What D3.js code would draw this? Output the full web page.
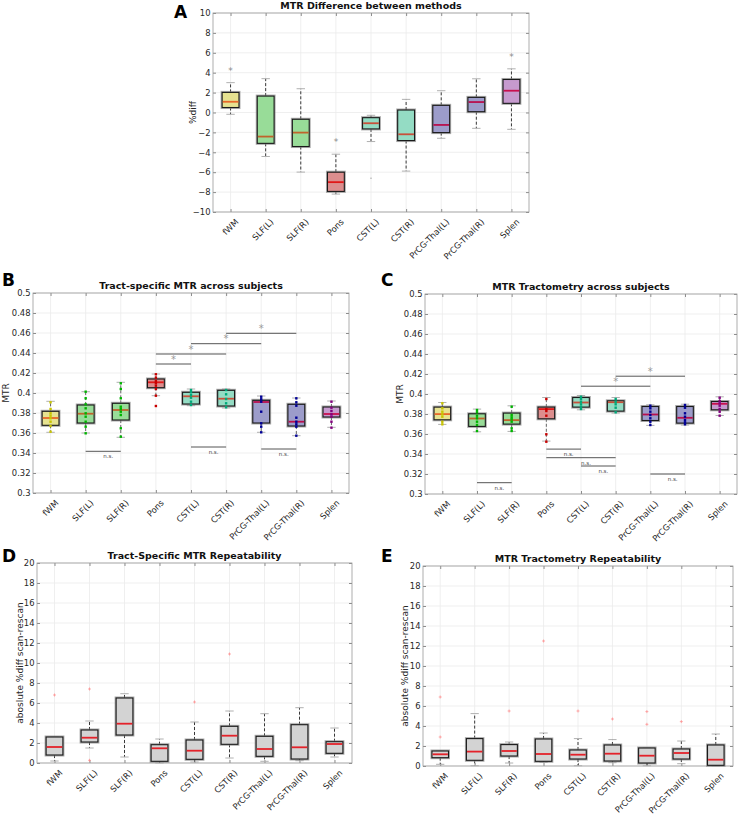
<!DOCTYPE html>
<html><head><meta charset="utf-8">
<script src="https://cdn.jsdelivr.net/npm/d3@7"></script>
<style>body{margin:0;background:#fff} svg{display:block} text{font-family:"DejaVu Sans",sans-serif}</style>
</head><body><svg id="c" width="740" height="815"></svg>
<script>
const categories = ["fWM","SLF(L)","SLF(R)","Pons","CST(L)","CST(R)","PrCG-Thal(L)","PrCG-Thal(R)","Splen"];
const fillColors = ["#e6e290","#98dc98","#98dc98","#dc8e8e","#94dcc4","#94dcc4","#9c9cca","#9c9cca","#c69ace"];
const medianColors = ["#e8682a","#c0642c","#c0642c","#e01818","#c8503a","#c8503a","#b8104e","#b8104e","#c8104e"];
const dotColors = ["#c8c400","#00b400","#00b400","#c80000","#00aa7a","#00aa7a","#000096","#000096","#82007e"];
const grayFill = "#d3d3d3";

// Panel A: MTR difference between methods (%diff)
const aQ1  = [0.5,-3.1,-3.42,-7.93,-1.65,-2.82,-2.02,0.08,0.92];
const aMed = [1.08,-2.42,-2.02,-7.0,-1.08,-2.19,-1.25,1.05,2.19];
const aQ3  = [2.02,1.65,-0.68,-6.0,-0.52,0.25,0.72,1.52,3.32];
const aLo  = [-0.18,-4.42,-5.99,-8.2,-2.92,-5.89,-2.59,-1.59,-1.69];
const aHi  = [3.0,3.4,2.39,-4.19,-0.28,1.32,2.19,3.39,4.39];
const aOutStar = [[4.3],[],[],[-2.89],[],[],[],[],[5.69]];
const aOutDot  = [[],[],[],[],[-6.6],[],[],[],[]];
const aTicks = [-10,-8,-6,-4,-2,0,2,4,6,8,10];

// Panel B: tract-specific MTR across subjects
const bQ1  = [0.3677,0.370,0.373,0.4053,0.389,0.387,0.370,0.367,0.376];
const bMed = [0.375,0.3793,0.383,0.4107,0.3967,0.3943,0.391,0.3713,0.379];
const bQ3  = [0.3817,0.388,0.3897,0.414,0.4007,0.4027,0.3927,0.3887,0.386];
const bLo  = [0.3607,0.360,0.3557,0.3973,0.3873,0.385,0.3607,0.3573,0.3657];
const bHi  = [0.3917,0.4013,0.4107,0.419,0.404,0.404,0.397,0.395,0.392];
const bPoints = [
  [0.3907,0.384,0.3797,0.3773,0.3747,0.3713,0.367,0.3613],
  [0.4013,0.3947,0.3887,0.3847,0.3797,0.3763,0.3713,0.3663,0.3597],
  [0.4097,0.404,0.3947,0.3863,0.384,0.3813,0.378,0.3647,0.3563],
  [0.4187,0.4153,0.412,0.4097,0.4073,0.404,0.3973,0.387],
  [0.403,0.4007,0.398,0.3953,0.3913,0.388],
  [0.403,0.3987,0.394,0.3897,0.3857],
  [0.3963,0.3937,0.3913,0.3813,0.3697,0.3663,0.3607],
  [0.3947,0.3907,0.3873,0.3753,0.3713,0.3687,0.3663,0.3573],
  [0.3913,0.3853,0.382,0.3787,0.3763,0.3713,0.3653]
];
const bSig = [[4,5,0.429,"*"],[4,6,0.439,"*"],[5,7,0.4493,"*"],[6,8,0.4597,"*"],
              [2,3,0.3417,"n.s."],[5,6,0.346,"n.s."],[7,8,0.344,"n.s."]];
const mtrTicks = [0.3,0.32,0.34,0.36,0.38,0.4,0.42,0.44,0.46,0.48,0.5];

// Panel C: MTR tractometry across subjects
const cQ1  = [0.3742,0.3676,0.3699,0.3752,0.3869,0.3829,0.3735,0.3709,0.3842];
const cMed = [0.3799,0.3755,0.3739,0.3849,0.3915,0.3918,0.3795,0.3762,0.3902];
const cQ3  = [0.3869,0.3802,0.3809,0.3869,0.3965,0.3932,0.3875,0.3875,0.3925];
const cLo  = [0.3696,0.3622,0.3626,0.3529,0.3842,0.3809,0.3686,0.3689,0.3785];
const cHi  = [0.3915,0.3849,0.3882,0.3965,0.3985,0.3965,0.3892,0.3898,0.3972];
const cPoints = [
  [0.3907,0.3857,0.3823,0.3797,0.3773,0.3723,0.3697],
  [0.384,0.3817,0.3783,0.3757,0.3723,0.369,0.363],
  [0.3873,0.379,0.3767,0.3747,0.3723,0.3657,0.363],
  [0.395,0.385,0.383,0.3783,0.3597,0.3523],
  [0.3973,0.395,0.3923,0.3897,0.3873,0.385],
  [0.395,0.3923,0.3897,0.3863,0.3817],
  [0.3883,0.3857,0.3823,0.379,0.3757,0.3723,0.369],
  [0.389,0.3863,0.3807,0.3773,0.374,0.3717,0.3697],
  [0.3963,0.393,0.3907,0.3883,0.385,0.3823,0.3783]
];
const cSig = [[5,7,0.4078,"*"],[6,8,0.4178,"*"],
              [2,3,0.3113,"n.s."],[4,5,0.3449,"n.s."],[4,6,0.3363,"n.s."],[5,6,0.328,"n.s."],[7,8,0.32,"n.s."]];

// Panel D: tract-specific repeatability
const dQ1  = [0.8,2.1,2.8,0.17,0.37,1.87,0.67,0.4,0.97];
const dMed = [1.6,2.53,3.93,1.47,1.23,2.73,1.4,1.57,1.9];
const dQ3  = [2.6,3.3,6.5,1.83,2.3,3.67,2.67,3.83,2.13];
const dLo  = [0.2,1.5,0.6,0.0,0.1,0.5,0.17,0.23,0.6];
const dHi  = [2.6,4.2,6.93,2.4,4.1,5.2,4.93,5.53,3.5];
const dOut = [[6.8],[7.4,0.27],[],[],[6.1],[10.9],[],[],[]];

// Panel E: tractometry repeatability
const eQ1  = [0.83,0.57,1.0,0.47,0.7,0.5,0.3,0.7,0.07];
const eMed = [1.17,1.44,1.5,1.2,1.13,1.23,1.03,1.3,0.63];
const eQ3  = [1.5,2.74,2.14,2.7,1.6,2.1,1.8,1.7,2.1];
const eLo  = [0.17,0.03,0.3,0.37,0.03,0.33,0.03,0.23,0.0];
const eHi  = [1.5,5.24,2.4,3.3,2.74,2.64,1.8,2.5,3.2];
const eOut = [[6.9,2.9],[],[5.5],[12.5],[5.5],[4.7],[5.44,4.17],[4.44],[]];
const repTicks = [0,2,4,6,8,10,12,14,16,18,20];

const svg = d3.select("#c");

function panel(cfg){
  const g = svg.append("g");
  const x = d3.scaleLinear().domain([0.5, 9.5]).range([cfg.left, cfg.right]);
  const y = d3.scaleLinear().domain([cfg.ticks[0], cfg.ticks[cfg.ticks.length-1]]).range([cfg.bottom, cfg.top]);
  const step = x(2) - x(1);
  const hw = step * 0.24, cw = step * 0.12;
  const idx = d3.range(1, 10);

  // grid
  g.append("g").selectAll("line").data(cfg.ticks).join("line")
    .attr("x1", cfg.left).attr("x2", cfg.right).attr("y1", d => y(d)).attr("y2", d => y(d))
    .attr("stroke", "#ebebeb").attr("stroke-width", 0.8);
  g.append("g").selectAll("line").data(idx).join("line")
    .attr("y1", cfg.top).attr("y2", cfg.bottom).attr("x1", d => x(d)).attr("x2", d => x(d))
    .attr("stroke", "#ebebeb").attr("stroke-width", 0.8);

  // axes
  const fmt = cfg.fmt || (d => String(d).replace("-", "\u2212"));
  const ya = g.append("g").attr("transform", `translate(${cfg.left},0)`)
    .call(d3.axisLeft(y).tickValues(cfg.ticks).tickFormat(fmt).tickSizeInner(-3).tickSizeOuter(0).tickPadding(2.5));
  ya.select(".domain").remove();
  ya.selectAll("line").attr("stroke", "#444").attr("stroke-width", 0.6);
  ya.selectAll("text").attr("font-size", 8.4).attr("fill", "#262626").attr("font-family", "DejaVu Sans");
  const yr = g.append("g").attr("transform", `translate(${cfg.right},0)`)
    .call(d3.axisRight(y).tickValues(cfg.ticks).tickFormat("").tickSizeInner(-3).tickSizeOuter(0));
  yr.select(".domain").remove();
  yr.selectAll("line").attr("stroke", "#444").attr("stroke-width", 0.6);

  const xa = g.append("g").attr("transform", `translate(0,${cfg.bottom})`)
    .call(d3.axisBottom(x).tickValues(idx).tickFormat(d => categories[d-1]).tickSizeInner(-3).tickSizeOuter(0));
  xa.select(".domain").remove();
  xa.selectAll("line").attr("stroke", "#444").attr("stroke-width", 0.6);
  xa.selectAll("text").attr("font-size", 8.4).attr("fill", "#262626").attr("font-family", "DejaVu Sans")
    .attr("text-anchor", "end").attr("dy", null).attr("y", 0)
    .attr("transform", d => `translate(8,10.5) rotate(-45)`);
  const xt = g.append("g").attr("transform", `translate(0,${cfg.top})`)
    .call(d3.axisTop(x).tickValues(idx).tickFormat("").tickSizeInner(-3).tickSizeOuter(0));
  xt.select(".domain").remove();
  xt.selectAll("line").attr("stroke", "#444").attr("stroke-width", 0.6);

  g.append("rect").attr("x", cfg.left).attr("y", cfg.top)
    .attr("width", cfg.right - cfg.left).attr("height", cfg.bottom - cfg.top)
    .attr("fill", "none").attr("stroke", "#9a9a9a").attr("stroke-width", 0.8);

  // boxes
  const bx = g.append("g");
  idx.forEach((d, i) => {
    const cx = x(d);
    const wcol = cfg.whiskerColor || "#222";
    bx.append("line").attr("x1", cx).attr("x2", cx).attr("y1", y(cfg.q3[i])).attr("y2", y(cfg.hi[i]))
      .attr("stroke", wcol).attr("stroke-width", 0.9).attr("stroke-dasharray", "3,2");
    bx.append("line").attr("x1", cx).attr("x2", cx).attr("y1", y(cfg.q1[i])).attr("y2", y(cfg.lo[i]))
      .attr("stroke", wcol).attr("stroke-width", 0.9).attr("stroke-dasharray", "3,2");
    [cfg.hi[i], cfg.lo[i]].forEach(v => {
      bx.append("line").attr("x1", cx - cw).attr("x2", cx + cw).attr("y1", y(v)).attr("y2", y(v))
        .attr("stroke", "#b0b0b0").attr("stroke-width", 1);
    });
    const top = y(cfg.q3[i]), bot = y(cfg.q1[i]);
    bx.append("rect").attr("x", cx - hw).attr("y", top).attr("width", 2*hw).attr("height", bot - top)
      .attr("fill", "none").attr("stroke", "#888").attr("stroke-opacity", 0.7).attr("stroke-width", 3);
    bx.append("rect").attr("x", cx - hw).attr("y", top).attr("width", 2*hw).attr("height", bot - top)
      .attr("fill", cfg.fills[i]).attr("stroke", "#1a1a1a").attr("stroke-width", 1.1);
    bx.append("line").attr("x1", cx - hw + 0.6).attr("x2", cx + hw - 0.6).attr("y1", y(cfg.med[i])).attr("y2", y(cfg.med[i]))
      .attr("stroke", cfg.meds[i]).attr("stroke-width", 1.8);
    if (cfg.points) {
      cfg.points[i].forEach(v => {
        bx.append("rect").attr("x", cx - 1.2).attr("y", y(v) - 1.2).attr("width", 2.4).attr("height", 2.4)
          .attr("fill", dotColors[i]);
      });
    }
    if (cfg.outStar) {
      cfg.outStar[i].forEach(v => {
        bx.append("text").attr("x", cx).attr("y", y(v) + 4.2).attr("text-anchor", "middle")
          .attr("font-size", 9).attr("fill", "#8a8a8a").text("*");
      });
    }
    if (cfg.outDot) {
      cfg.outDot[i].forEach(v => {
        bx.append("circle").attr("cx", cx).attr("cy", y(v)).attr("r", 0.7).attr("fill", "#999");
      });
    }
    if (cfg.outPlus) {
      cfg.outPlus[i].forEach(v => {
        const py = y(v);
        bx.append("path").attr("d", `M${cx-1.5},${py}H${cx+1.5}M${cx},${py-1.5}V${py+1.5}`)
          .attr("stroke", "#ff8a8a").attr("stroke-width", 0.7);
      });
    }
  });

  // significance bars
  if (cfg.sig) {
    cfg.sig.forEach(([a, b, v, lab]) => {
      const yy = y(v);
      g.append("line").attr("x1", x(a)).attr("x2", x(b)).attr("y1", yy).attr("y2", yy)
        .attr("stroke", "#555").attr("stroke-width", 1);
      if (lab === "*") {
        g.append("text").attr("x", (x(a)+x(b))/2).attr("y", yy - 1.5).attr("text-anchor", "middle")
          .attr("font-size", 10).attr("fill", "#9a9a9a").text("*");
      } else {
        g.append("text").attr("x", (x(a)+x(b))/2 + 5).attr("y", yy + 7).attr("text-anchor", "middle")
          .attr("font-size", 5.5).attr("fill", "#444").text(lab);
      }
    });
  }

  // title, y label, panel letter
  g.append("text").attr("x", (cfg.left + cfg.right)/2).attr("y", cfg.top - 4).attr("text-anchor", "middle")
    .attr("font-size", 9.5).attr("font-weight", "bold").attr("fill", "#111").text(cfg.title);
  g.append("text").attr("transform", `translate(${cfg.ylabX},${(cfg.top+cfg.bottom)/2}) rotate(-90)`)
    .attr("text-anchor", "middle").attr("font-size", 9).attr("fill", "#262626").text(cfg.ylab);
  g.append("text").attr("x", cfg.labX).attr("y", cfg.labY).attr("font-size", 17).attr("font-weight", "bold")
    .attr("font-family", "Liberation Sans, Arial, sans-serif").attr("fill", "#000").text(cfg.letter);
}

const fmt2 = d => String(+d.toFixed(2));

panel({left:213, right:529, top:13, bottom:212, ticks:aTicks, title:"MTR Difference between methods",
  ylab:"%diff", ylabX:196, letter:"A", labX:174, labY:18,
  q1:aQ1, med:aMed, q3:aQ3, lo:aLo, hi:aHi, outStar:aOutStar, outDot:aOutDot,
  fills:fillColors, meds:medianColors});
panel({left:33, right:349, top:293, bottom:493, ticks:mtrTicks, fmt:fmt2, title:"Tract-specific MTR across subjects",
  ylab:"MTR", ylabX:9, letter:"B", labX:2, labY:286,
  q1:bQ1, med:bMed, q3:bQ3, lo:bLo, hi:bHi, points:bPoints, sig:bSig, whiskerColor:"#555",
  fills:fillColors, meds:medianColors});
panel({left:425, right:737, top:294, bottom:494, ticks:mtrTicks, fmt:fmt2, title:"MTR Tractometry across subjects",
  ylab:"MTR", ylabX:403, letter:"C", labX:381, labY:286,
  q1:cQ1, med:cMed, q3:cQ3, lo:cLo, hi:cHi, points:cPoints, sig:cSig, whiskerColor:"#555",
  fills:fillColors, meds:medianColors});
panel({left:37, right:352, top:563, bottom:763, ticks:repTicks, title:"Tract-Specific MTR Repeatability",
  ylab:"aboslute %diff scan-rescan", ylabX:23, letter:"D", labX:2, labY:562,
  q1:dQ1, med:dMed, q3:dQ3, lo:dLo, hi:dHi, outPlus:dOut,
  fills:categories.map(() => grayFill), meds:categories.map(() => "#e4222a")});
panel({left:423, right:733, top:566, bottom:766, ticks:repTicks, title:"MTR Tractometry Repeatability",
  ylab:"absolute %diff scan-rescan", ylabX:408, letter:"E", labX:381, labY:562,
  q1:eQ1, med:eMed, q3:eQ3, lo:eLo, hi:eHi, outPlus:eOut,
  fills:categories.map(() => grayFill), meds:categories.map(() => "#e4222a")});
</script></body></html>
